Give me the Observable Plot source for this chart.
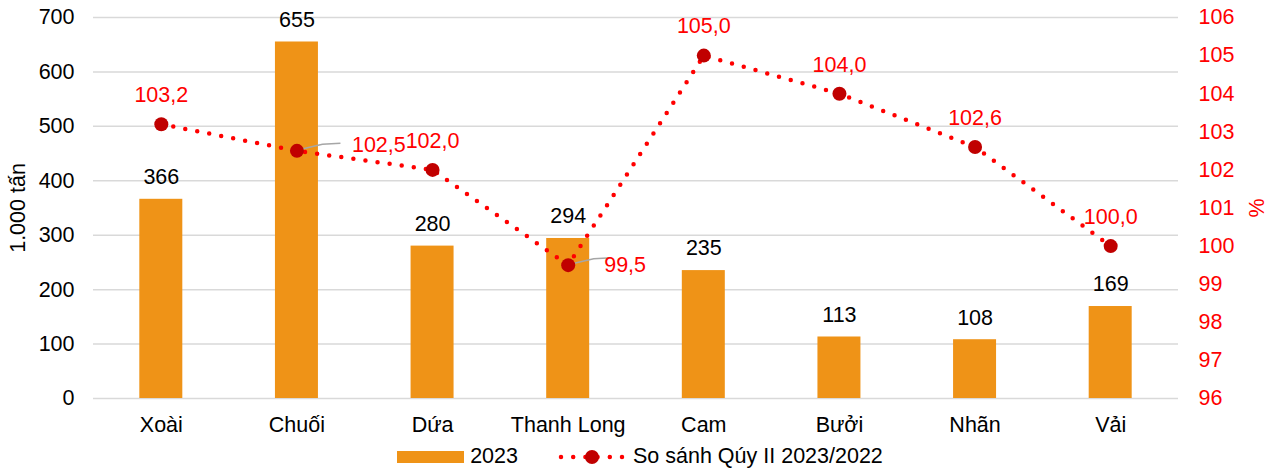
<!DOCTYPE html>
<html>
<head>
<meta charset="utf-8">
<script src="https://cdn.jsdelivr.net/npm/d3@7"></script>
<script src="https://cdn.jsdelivr.net/npm/@observablehq/plot@0.6"></script>
<style>
  body { margin: 0; background: #fff; font-family: "Liberation Sans", Arial, sans-serif; }
  #chart svg { display: block; }
  #legend { display: flex; justify-content: center; align-items: center; height: 33px; font-size: 21.5px; color: #000; }
  #legend .item { display: flex; align-items: center; }
</style>
</head>
<body>
<div id="chart"></div>
<div id="legend"></div>
<script>
// ---- data ----
const categories = ["Xoài", "Chuối", "Dứa", "Thanh Long", "Cam", "Bưởi", "Nhãn", "Vải"];
const production2023 = [366, 655, 280, 294, 235, 113, 108, 169];
const yoyPercent = [103.2, 102.5, 102.0, 99.5, 105.0, 104.0, 102.6, 100.0];
const leftTicks = [0, 100, 200, 300, 400, 500, 600, 700];
const rightTicks = [96, 97, 98, 99, 100, 101, 102, 103, 104, 105, 106];
const calloutCategories = ["Chuối", "Thanh Long"];
const seriesNames = ["2023", "So sánh Qúy II 2023/2022"];

// ---- mapping of the % axis onto the left axis domain ----
const leftDomain = [0, 700];
const rightDomain = [96, 106];
const toLeft = p => leftDomain[0] + (p - rightDomain[0]) * (leftDomain[1] - leftDomain[0]) / (rightDomain[1] - rightDomain[0]);
const toRight = v => rightDomain[0] + (v - leftDomain[0]) * (rightDomain[1] - rightDomain[0]) / (leftDomain[1] - leftDomain[0]);

const rows = categories.map((c, i) => ({cat: c, value: production2023[i], pct: yoyPercent[i], pctY: toLeft(yoyPercent[i])}));
const fmtPct = v => v.toFixed(1).replace(".", ",");

const BAR = "#EF9317", LINE = "#FF0000", DOT = "#C00000";

// leader lines drawn from the library's scales
function leaders(...args) {
  const scales = args.find(a => a && typeof a.x === "function" && typeof a.y === "function");
  const g = d3.create("svg:g").attr("stroke", "#A6A6A6").attr("stroke-width", 1.5).attr("fill", "none");
  rows.filter(d => calloutCategories.includes(d.cat)).forEach(d => {
    const x = scales.x(d.cat) + scales.x.bandwidth() / 2;
    const y = scales.y(d.pctY);
    g.append("path").attr("d", `M${x},${y}L${x + 26},${y - 6}L${x + 44},${y - 7}`);
  });
  return g.node();
}

const plot = Plot.plot({
  width: 1278,
  height: 440,
  marginTop: 17,
  marginBottom: 42,
  marginLeft: 93,
  marginRight: 100,
  style: {fontSize: "21.5px", fontFamily: "'Liberation Sans', Arial, sans-serif", color: "#000", background: "#fff"},
  x: {domain: categories, paddingInner: 0.683, paddingOuter: 0.3415, round: false, label: null},
  y: {domain: leftDomain, label: null},
  marks: [
    Plot.gridY(leftTicks, {stroke: "#D9D9D9", strokeOpacity: 1, strokeWidth: 1.5}),
    Plot.axisY(leftTicks, {anchor: "left", tickSize: 0, tickPadding: 19, label: "1.000 tấn", labelAnchor: "center", labelOffset: 84, labelArrow: "none", fill: "#000"}),
    Plot.axisY(rightTicks.map(toLeft), {anchor: "right", tickSize: 0, tickPadding: 20, tickFormat: v => String(Math.round(toRight(v))), fill: LINE, label: "%", labelAnchor: "center", labelOffset: 85, labelArrow: "none", color: LINE}),
    Plot.axisX({tickSize: 0, tickPadding: 18, label: null, fill: "#000"}),
    Plot.barY(rows, {x: "cat", y: "value", fill: BAR}),
    Plot.text(rows, {x: "cat", y: "value", text: d => String(d.value), dy: -22, fill: "#000"}),
    Plot.line(rows, {x: "cat", y: "pctY", stroke: LINE, strokeWidth: 4.5, strokeDasharray: "0,12.2", strokeLinecap: "round"}),
    leaders,
    Plot.dot(rows, {x: "cat", y: "pctY", r: 7, fill: DOT, stroke: "none"}),
    Plot.text(rows.filter(d => !calloutCategories.includes(d.cat)), {x: "cat", y: "pctY", text: d => fmtPct(d.pct), dy: -29, fill: LINE}),
    Plot.text(rows.filter(d => d.cat === calloutCategories[0]), {x: "cat", y: "pctY", text: d => fmtPct(d.pct), dx: 55, dy: -6, textAnchor: "start", fill: LINE}),
    Plot.text(rows.filter(d => d.cat === calloutCategories[1]), {x: "cat", y: "pctY", text: d => fmtPct(d.pct), dx: 36, dy: 0, textAnchor: "start", fill: LINE})
  ]
});
document.getElementById("chart").appendChild(plot);

// ---- legend ----
const legend = d3.select("#legend");
const i1 = legend.append("div").attr("class", "item").style("margin-left", "2px");
i1.append("div").style("width", "67px").style("height", "12px").style("background", BAR).style("margin-right", "6px");
i1.append("span").text(seriesNames[0]);
const i2 = legend.append("div").attr("class", "item").style("margin-left", "40px");
const sv = i2.append("svg").attr("width", 68).attr("height", 20).style("margin-right", "7px");
sv.append("line").attr("x1", 3).attr("x2", 66).attr("y1", 10).attr("y2", 10).attr("stroke", LINE).attr("stroke-width", 4.5).attr("stroke-dasharray", "0,12.2").attr("stroke-linecap", "round");
sv.append("circle").attr("cx", 34).attr("cy", 10).attr("r", 7).attr("fill", DOT);
i2.append("span").text(seriesNames[1]);
</script>
</body>
</html>
